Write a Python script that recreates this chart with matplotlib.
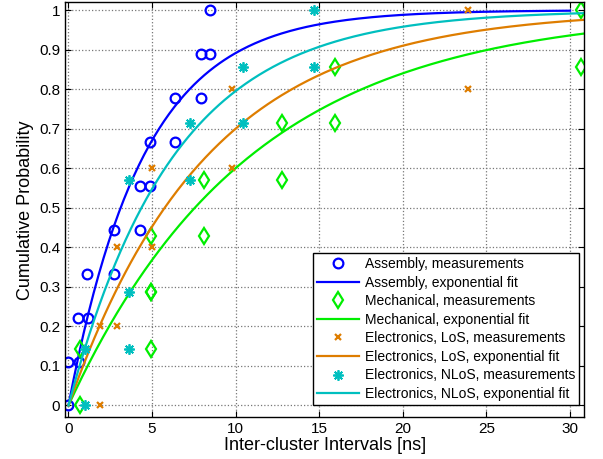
import numpy as np
import matplotlib
matplotlib.use("Agg")
import matplotlib.pyplot as plt

plt.rcParams['font.family'] = ['Liberation Sans', 'DejaVu Sans']

asm_x = [0, 0, 0.6, 0.57, 1.15, 1.11, 2.7, 2.7, 4.3, 4.3, 4.85, 4.85, 6.35, 6.35, 7.9, 7.9, 8.44, 8.44]
asm_y = [0, 0.111, 0.111, 0.222, 0.222, 0.333, 0.333, 0.444, 0.444, 0.556, 0.556, 0.667, 0.667, 0.778, 0.778, 0.889, 0.889, 1.0]

mech_x = [0.71, 0.71, 4.96, 4.96, 4.93, 4.93, 8.1, 8.1, 12.8, 12.8, 15.94, 15.94, 30.64, 30.64]
mech_y = [0, 0.143, 0.143, 0.286, 0.286, 0.429, 0.429, 0.571, 0.571, 0.714, 0.714, 0.857, 0.857, 1.0]

los_x = [1.86, 1.86, 2.92, 2.92, 5.0, 5.0, 9.78, 9.78, 23.92, 23.92]
los_y = [0, 0.2, 0.2, 0.4, 0.4, 0.6, 0.6, 0.8, 0.8, 1.0]

nlos_x = [1.01, 1.01, 3.64, 3.64, 3.64, 7.29, 7.29, 10.44, 10.44, 14.66, 14.66]
nlos_y = [0, 0.143, 0.143, 0.286, 0.571, 0.571, 0.714, 0.714, 0.857, 0.857, 1.0]

# mean inter-cluster interval of the exponential fits [ns]
lam_asm = 4.5
lam_mech = 10.9
lam_los = 8.3
lam_nlos = 6.3

c_blue = '#0000ff'
c_green = '#00ee00'
c_orange = '#de7d00'
c_cyan = '#00bfbf'

fig = plt.figure(figsize=(6.03, 4.59), dpi=100)
ax = fig.add_axes([0.108, 0.091, 0.861, 0.904])

t_a = np.linspace(0, 30, 300)
t = np.linspace(0, 31, 300)

ax.plot(asm_x, asm_y, 'o', ls='none', mfc='none', mec=c_blue, ms=7, mew=1.6,
        label='Assembly, measurements')
ax.plot(t_a, 1 - np.exp(-t_a / lam_asm), color=c_blue, lw=1.6,
        label='Assembly, exponential fit')
ax.plot(mech_x, mech_y, 'd', ls='none', mfc='none', mec=c_green, ms=8, mew=1.6,
        label='Mechanical, measurements')
ax.plot(t, 1 - np.exp(-t / lam_mech), color=c_green, lw=1.6,
        label='Mechanical, exponential fit')
ax.plot(los_x, los_y, 'x', ls='none', color=c_orange, ms=5, mew=1.6,
        label='Electronics, LoS, measurements')
ax.plot(t, 1 - np.exp(-t / lam_los), color=c_orange, lw=1.6,
        label='Electronics, LoS, exponential fit')
ax.plot(nlos_x, nlos_y, ls='none', marker=(8, 2, 0), color=c_cyan, ms=7.5, mew=1.3,
        label='Electronics, NLoS, measurements')
ax.plot(t, 1 - np.exp(-t / lam_nlos), color=c_cyan, lw=1.6,
        label='Electronics, NLoS, exponential fit')

ax.set_xlim(-0.2, 30.85)
ax.set_ylim(-0.03, 1.02)
ax.set_xticks(np.arange(0, 31, 5))
ax.set_yticks(np.arange(0, 1.01, 0.1))
ax.set_yticklabels(['0', '0.1', '0.2', '0.3', '0.4', '0.5', '0.6', '0.7', '0.8', '0.9', '1'])
ax.tick_params(direction='in', top=True, right=True, length=4, labelsize=11)
ax.grid(True, ls=':', color='#777777', lw=0.9)
for s in ax.spines.values():
    s.set_linewidth(1.0)

ax.set_xlabel('Inter-cluster Intervals [ns]', fontsize=13, labelpad=1)
ax.set_ylabel('Cumulative Probability', fontsize=13, labelpad=4)

leg = ax.legend(loc='lower right', bbox_to_anchor=(0.99, 0.029), fontsize=10,
                fancybox=False, framealpha=1, edgecolor='black', handlelength=3.0,
                borderpad=0.3, labelspacing=0.33, handletextpad=0.4, borderaxespad=0)
leg.get_frame().set_linewidth(1.0)

fig.savefig('out.png', dpi=100)
